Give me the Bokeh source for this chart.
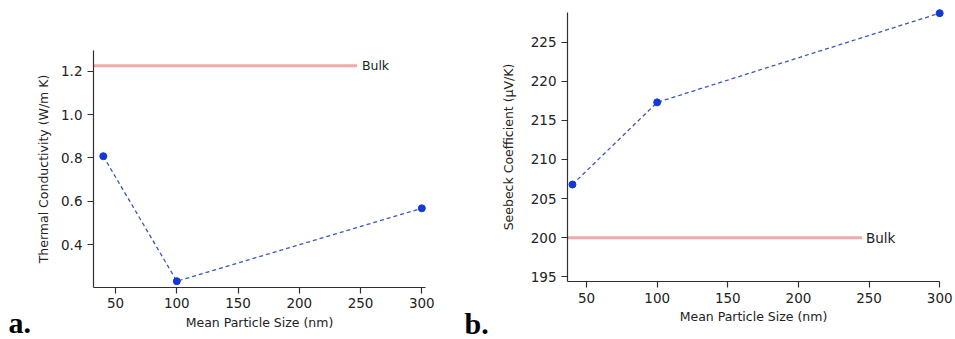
from bokeh.plotting import figure
from bokeh.layouts import row
from bokeh.models import FixedTicker, PrintfTickFormatter, Label, LinearAxis
from bokeh.embed import file_html
from bokeh.resources import INLINE

# ---- data ----
size_nm = [40, 100, 300]
thermal_k = [0.808, 0.232, 0.568]
seebeck = [206.8, 217.3, 228.7]

bulk_k = 1.225
bulk_seebeck = 200.0
bulk_x_a = [32, 247]
bulk_x_b = [36.5, 245]

x_ticks = [50, 100, 150, 200, 250, 300]
y_ticks_a = [0.4, 0.6, 0.8, 1.0, 1.2]
y_ticks_b = [195, 200, 205, 210, 215, 220, 225]

FONT = "DejaVu Sans"
BLUE_DOT = "#1238d8"
BLUE_LINE = "#3a56b8"
RED = "#d8282e"
AXIS = "#303030"


def make_axis(label, ticks, fmt, loc, bounds, label_standoff):
    ax = LinearAxis(axis_label=label, fixed_location=loc, bounds=bounds,
                    ticker=FixedTicker(ticks=ticks))
    if fmt:
        ax.formatter = PrintfTickFormatter(format=fmt)
    ax.axis_line_color = AXIS
    ax.axis_line_width = 1.2
    ax.major_tick_line_color = AXIS
    ax.major_tick_line_width = 1.2
    ax.major_tick_out = 6
    ax.major_tick_in = 0
    ax.minor_tick_line_color = None
    ax.major_label_text_font = FONT
    ax.major_label_text_font_size = "13.5px"
    ax.major_label_text_color = "#222222"
    ax.major_label_standoff = 5
    ax.axis_label_text_font = FONT
    ax.axis_label_text_font_size = "12.5px"
    ax.axis_label_text_font_style = "normal"
    ax.axis_label_text_color = "#222222"
    ax.axis_label_standoff = label_standoff
    return ax


def base_fig(w, h, xr, yr):
    p = figure(width=w, height=h, output_backend="svg", toolbar_location=None,
               x_range=xr, y_range=yr, x_axis_location=None, y_axis_location=None,
               min_border_left=0, min_border_right=0, min_border_top=0,
               min_border_bottom=0, frame_align=False)
    p.xgrid.visible = False
    p.ygrid.visible = False
    p.outline_line_color = None
    p.background_fill_color = "white"
    p.border_fill_color = "white"
    return p


# ---- panel a ----
xa = (32, 303)
ya = (0.203, 1.295)
pa = base_fig(450, 339, (-43.91, 323.41), (-0.0366, 1.5254))
pa.add_layout(make_axis("Mean Particle Size (nm)", x_ticks, None, ya[0], xa, 3), "below")
pa.add_layout(make_axis("Thermal Conductivity (W/m K)", y_ticks_a, "%.1f", xa[0], ya, 7), "left")
pa.line(bulk_x_a, [bulk_k, bulk_k], line_color=RED, line_width=3, line_alpha=0.8,
        line_dash="1 1")
pa.line(size_nm, thermal_k, line_color=BLUE_LINE, line_width=1.3, line_dash="4 3")
pa.scatter(size_nm, thermal_k, size=7, fill_color=BLUE_DOT, line_color=BLUE_DOT)
pa.add_layout(Label(x=bulk_x_a[1], y=bulk_k, text="Bulk", x_offset=5,
                    text_baseline="middle", text_font=FONT,
                    text_font_size="12.5px", text_color="#222222"))
pa.add_layout(Label(x=8, y=17, x_units="screen", y_units="screen", text="a.",
                    text_font="Liberation Serif", text_font_size="30px",
                    text_font_style="bold", text_baseline="alphabetic",
                    text_color="black"))

# ---- panel b ----
xb = (36.5, 300)
yb = (194.4, 228.76)
pb = base_fig(505, 339, (-46.34, 311.2), (186.99, 230.32))
pb.add_layout(make_axis("Mean Particle Size (nm)", x_ticks, None, yb[0], xb, 3), "below")
pb.add_layout(make_axis("Seebeck Coefficient (μV/K)", y_ticks_b, "%d", xb[0], yb, 12), "left")
pb.line(bulk_x_b, [bulk_seebeck, bulk_seebeck], line_color=RED, line_width=3,
        line_alpha=0.8, line_dash="1 1")
pb.line(size_nm, seebeck, line_color=BLUE_LINE, line_width=1.3, line_dash="4 3")
pb.scatter(size_nm, seebeck, size=7, fill_color=BLUE_DOT, line_color=BLUE_DOT)
pb.add_layout(Label(x=bulk_x_b[1], y=bulk_seebeck, text="Bulk", x_offset=4,
                    text_baseline="middle", text_font=FONT,
                    text_font_size="13.5px", text_color="#222222"))
pb.add_layout(Label(x=14, y=16, x_units="screen", y_units="screen", text="b.",
                    text_font="Liberation Serif", text_font_size="30px",
                    text_font_style="bold", text_baseline="alphabetic",
                    text_color="black"))

layout = row(pa, pb)
open("out.html", "w").write(file_html(layout, INLINE))
